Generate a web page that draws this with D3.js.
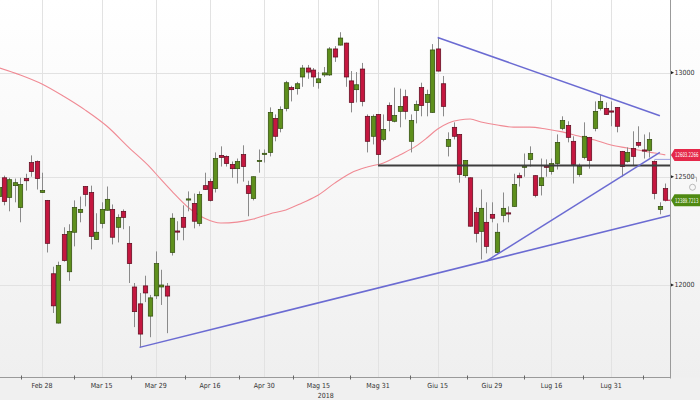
<!DOCTYPE html>
<html><head><meta charset="utf-8">
<script src="https://cdn.jsdelivr.net/npm/d3@7"></script>
<style>
body{margin:0;background:#f0f0f0;}
svg{display:block;}
text{font-family:"Liberation Sans Narrow","DejaVu Sans Condensed",sans-serif;}
</style>
</head><body>
<svg id="c" width="700" height="400"></svg>
<script>
// ---------- DATA ----------
const dates = [
"2018-02-16","2018-02-19","2018-02-20","2018-02-21","2018-02-22","2018-02-23","2018-02-26","2018-02-27","2018-02-28",
"2018-03-01","2018-03-02","2018-03-05","2018-03-06","2018-03-07","2018-03-08","2018-03-09","2018-03-12","2018-03-13","2018-03-14","2018-03-15","2018-03-16","2018-03-19","2018-03-20","2018-03-21","2018-03-22","2018-03-23","2018-03-26","2018-03-27","2018-03-28","2018-03-29",
"2018-04-03","2018-04-04","2018-04-05","2018-04-06","2018-04-09","2018-04-10","2018-04-11","2018-04-12","2018-04-13","2018-04-16","2018-04-17","2018-04-18","2018-04-19","2018-04-20","2018-04-23","2018-04-24","2018-04-25","2018-04-26","2018-04-27","2018-04-30",
"2018-05-02","2018-05-03","2018-05-04","2018-05-07","2018-05-08","2018-05-09","2018-05-10","2018-05-11","2018-05-14","2018-05-15","2018-05-16","2018-05-17","2018-05-18","2018-05-22","2018-05-23","2018-05-24","2018-05-25","2018-05-28","2018-05-29","2018-05-30","2018-05-31",
"2018-06-01","2018-06-04","2018-06-05","2018-06-06","2018-06-07","2018-06-08","2018-06-11","2018-06-12","2018-06-13","2018-06-14","2018-06-15","2018-06-18","2018-06-19","2018-06-20","2018-06-21","2018-06-22","2018-06-25","2018-06-26","2018-06-27","2018-06-28","2018-06-29",
"2018-07-02","2018-07-03","2018-07-04","2018-07-05","2018-07-06","2018-07-09","2018-07-10","2018-07-11","2018-07-12","2018-07-13","2018-07-16","2018-07-17","2018-07-18","2018-07-19","2018-07-20","2018-07-23","2018-07-24","2018-07-25","2018-07-26","2018-07-27","2018-07-30","2018-07-31",
"2018-08-01","2018-08-02","2018-08-03","2018-08-06","2018-08-07","2018-08-08","2018-08-09","2018-08-10","2018-08-13","2018-08-14"];

const open = [12407,12495,12403,12458,12356,12491,12567,12572,12426,
12389,12051,11829,12231,12060,12241,12333,12454,12426,12208,12282,12343,12347,12264,12338,12190,11991,11915,11996,11860,11951,
11991,11995,12148,12247,12310,12392,12375,12282,12458,12477,12444,12601,12596,12558,12538,12605,12458,12398,12574,12608,
12615,12778,12730,12826,12927,12922,12979,13023,13013,12951,12989,12989,13117,13136,13146,12960,12917,13018,12788,12692,12797,
12677,12840,12764,12812,12883,12668,12816,12927,12855,12807,13117,12946,12644,12735,12701,12505,12495,12333,12245,12287,12324,
12148,12319,12331,12361,12505,12546,12582,12505,12458,12550,12524,12562,12730,12744,12668,12510,12591,12687,12730,12826,12826,12814,
12831,12620,12572,12634,12663,12627,12625,12572,12347,12444];

const high = [12463,12505,12495,12491,12495,12514,12601,12577,12519,
12391,12083,12106,12264,12278,12389,12407,12456,12458,12329,12380,12454,12370,12324,12347,12269,12009,11964,12042,11955,12153,
12069,12009,12329,12292,12366,12431,12421,12431,12519,12491,12615,12644,12601,12572,12586,12649,12481,12501,12629,12629,
12831,12797,12836,12960,12936,12955,13038,13038,13023,13003,13028,13126,13131,13200,13148,13008,13003,13048,12797,12797,12799,
12797,12855,12927,12922,12917,12797,12864,12951,12917,13141,13176,12984,12711,12759,12703,12579,12497,12356,12440,12380,12380,
12282,12426,12361,12514,12519,12610,12644,12507,12586,12582,12586,12701,12788,12764,12692,12562,12759,12689,12860,12893,12855,12860,
12833,12622,12639,12716,12740,12701,12711,12577,12380,12468];

const low = [12394,12366,12338,12380,12287,12435,12500,12440,12424,
12148,11874,11827,12106,12019,12176,12287,12361,12162,12206,12259,12341,12185,12194,12255,12009,11811,11721,11923,11766,11937,
11910,11784,12134,12204,12204,12338,12259,12269,12438,12384,12426,12548,12548,12495,12468,12477,12315,12389,12519,12567,
12596,12668,12711,12812,12860,12893,12931,12970,12931,12922,12979,12984,13053,13134,12931,12807,12855,12836,12615,12653,12558,
12668,12716,12759,12735,12773,12615,12754,12788,12788,12805,13006,12788,12596,12677,12472,12495,12267,12194,12116,12144,12287,
12144,12287,12287,12359,12454,12500,12548,12403,12412,12500,12510,12534,12721,12663,12468,12500,12582,12538,12716,12816,12795,12740,
12711,12500,12567,12553,12639,12586,12591,12394,12324,12384];

const close = [12449,12384,12486,12472,12463,12481,12524,12491,12435,
12190,11906,12088,12111,12245,12356,12347,12417,12222,12241,12347,12394,12218,12310,12310,12097,11880,11780,11964,11942,12097,
12000,11950,12306,12243,12264,12396,12292,12417,12440,12389,12586,12591,12562,12538,12572,12548,12421,12500,12577,12611,
12807,12692,12821,12951,12917,12946,13023,13003,12979,12970,12999,13117,13077,13171,12979,12855,12941,12860,12668,12788,12605,
12725,12768,12792,12836,12812,12768,12845,12840,12893,13112,13008,12836,12677,12692,12510,12577,12269,12236,12352,12176,12306,
12241,12352,12327,12463,12495,12550,12610,12412,12495,12546,12562,12663,12768,12687,12558,12548,12692,12577,12812,12860,12797,12810,
12740,12548,12615,12596,12649,12622,12677,12421,12361,12389.7213];

// moving average at sample dates
const maDates = ["2018-02-16","2018-02-22","2018-02-28","2018-03-06","2018-03-12","2018-03-16","2018-03-22","2018-03-28","2018-04-03","2018-04-05","2018-04-10","2018-04-13","2018-04-18","2018-04-23","2018-04-26","2018-05-02","2018-05-07","2018-05-10","2018-05-15","2018-05-18","2018-05-24","2018-05-29","2018-06-01","2018-06-06","2018-06-11","2018-06-13","2018-06-15","2018-06-19","2018-06-21","2018-06-25","2018-06-27","2018-07-02","2018-07-05","2018-07-10","2018-07-13","2018-07-18","2018-07-23","2018-07-26","2018-07-31","2018-08-03","2018-08-08","2018-08-10","2018-08-14"];
const maValues = [13025,12989,12945,12885,12818,12740,12639,12543,12486,12431,12356,12306,12284,12288,12302,12326,12344,12377,12414,12470,12518,12546,12565,12603,12645,12684,12727,12756,12770,12775,12761,12746,12736,12736,12727,12713,12693,12674,12650,12636,12622,12612,12603.2266];

const xTickDates  = ["2018-02-28","2018-03-15","2018-03-29","2018-04-16","2018-04-30","2018-05-15","2018-05-31","2018-06-15","2018-06-29","2018-07-16","2018-07-31"];
const xTickLabels = ["Feb 28","Mar 15","Mar 29","Apr 16","Apr 30","Mag 15","Mag 31","Giu 15","Giu 29","Lug 16","Lug 31"];
const yearLabel = "2018";
const yTicks = [12000, 12500, 13000];

// analyst drawings
const supportStart = "2018-05-31", supportValue = 12553;
const trendFrom  = ["2018-06-15","2018-03-26","2018-06-28"];
const trendFromV = [13174, 11721, 12109];
const trendTo    = ["2018-08-13","2018-06-28","2018-08-13"];
const trendToV   = [12791, 12109, 12615];
const trendExtend = [false, true, false];
const faintStart = "2018-08-10", faintValue = 12582;

const maLabel = "12603.2266", lastLabel = "12389.7213";

// ---------- CHART ----------
const svg = d3.select("#c");
const PR = 670.5, PB = 377.5;

const x = d3.scalePoint().domain(dates).range([-1.4, 665.3]);
const y = d3.scaleLog().domain([12000, 13000]).range([285, 72.7]);

const defs = svg.append("defs");
const g1 = defs.append("linearGradient").attr("id","bg").attr("x1",0).attr("y1",0).attr("x2",0).attr("y2",1);
g1.append("stop").attr("offset","0%").attr("stop-color","#ffffff");
g1.append("stop").attr("offset","100%").attr("stop-color","#efefef");
defs.append("clipPath").attr("id","clip").append("rect").attr("x",0).attr("y",0).attr("width",PR).attr("height",PB);

svg.append("rect").attr("width",700).attr("height",400).attr("fill","#f0f0f0");
svg.append("rect").attr("x",0).attr("y",0).attr("width",700).attr("height",PB).attr("fill","url(#bg)");

const plot = svg.append("g").attr("clip-path","url(#clip)");

// grid
plot.selectAll("line.vg").data(xTickDates).join("line")
  .attr("x1",d=>Math.round(x(d))+0.5).attr("x2",d=>Math.round(x(d))+0.5)
  .attr("y1",0).attr("y2",PB).attr("stroke","#e2e2e2").attr("stroke-width",1);
plot.selectAll("line.hg").data(yTicks).join("line")
  .attr("x1",0).attr("x2",PR).attr("y1",d=>Math.round(y(d))+0.5).attr("y2",d=>Math.round(y(d))+0.5)
  .attr("stroke","#e2e2e2").attr("stroke-width",1);

// moving average
const ma = maDates.map((d,i)=>[d,maValues[i]]);
plot.append("path").datum(ma)
  .attr("d", d3.line().x(d=>x(d[0])).y(d=>y(d[1])).curve(d3.curveMonotoneX))
  .attr("fill","none").attr("stroke","#f08a94").attr("stroke-width",1.1);

// candles
const bw = 4.4;
const idx = d3.range(dates.length);
const cg = plot.append("g");
cg.selectAll("line.w").data(idx).join("line")
  .attr("x1",i=>Math.round(x(dates[i]))+0.5).attr("x2",i=>Math.round(x(dates[i]))+0.5)
  .attr("y1",i=>y(high[i])).attr("y2",i=>y(low[i]))
  .attr("stroke","#8a8a8a").attr("stroke-width",1);
cg.selectAll("rect.b").data(idx).join("rect")
  .attr("x",i=>Math.round(x(dates[i]))+0.5-bw/2)
  .attr("y",i=>y(Math.max(open[i],close[i])))
  .attr("width",bw)
  .attr("height",i=>Math.max(1.2, y(Math.min(open[i],close[i]))-y(Math.max(open[i],close[i]))))
  .attr("fill",i=>close[i]>=open[i]?"#5e8f1c":"#c4173f")
  .attr("stroke",i=>close[i]>=open[i]?"#2f4a0c":"#5a0a1c")
  .attr("stroke-width",0.7);

// support line
plot.append("line").attr("x1",x(supportStart)).attr("x2",PR)
  .attr("y1",y(supportValue)).attr("y2",y(supportValue))
  .attr("stroke","#3d3d3d").attr("stroke-width",2);

// trend lines
trendFrom.forEach((d,i)=>{
  const x1=x(d), y1=y(trendFromV[i]), x2=x(trendTo[i]), y2=y(trendToV[i]);
  let ex=x2, ey=y2;
  if (trendExtend[i]) { ex = PR; ey = y1 + (y2-y1)*(PR-x1)/(x2-x1); }
  plot.append("line").attr("x1",x1).attr("y1",y1).attr("x2",ex).attr("y2",ey)
    .attr("stroke","#6b6bd2").attr("stroke-width",1.5);
});
plot.append("line").attr("x1",x(faintStart)).attr("x2",PR)
  .attr("y1",y(faintValue)).attr("y2",y(faintValue))
  .attr("stroke","#9aa0e0").attr("stroke-width",1);
plot.append("line").attr("x1",x(dates[dates.length-1])).attr("x2",PR)
  .attr("y1",y(close[close.length-1])).attr("y2",y(close[close.length-1]))
  .attr("stroke","#c4173f").attr("stroke-width",1);

// axes
svg.append("line").attr("x1",PR).attr("x2",PR).attr("y1",0).attr("y2",PB+1).attr("stroke","#9a9a9a");
svg.append("line").attr("x1",0).attr("x2",PR).attr("y1",PB).attr("y2",PB).attr("stroke","#9a9a9a");

// right axis ticks & labels
yTicks.forEach(v=>{
  const yy = y(v);
  svg.append("path").attr("d",`M${PR+0.5},${yy-1.6}L${PR+3.5},${yy}L${PR+0.5},${yy+1.6}Z`).attr("fill","#222");
  svg.append("text").attr("x",PR+4).attr("y",yy).attr("dy","0.35em")
    .attr("font-size",7).attr("fill","#333").text(d3.format("d")(v));
});

// value labels (text squeezed horizontally to fit the 25px box)
function valueLabel(v, txt, col){
  const yy = y(v);
  svg.append("path").attr("d",`M${PR+0.5},${yy}L${PR+4},${yy-6}L700,${yy-6}L700,${yy+6}L${PR+4},${yy+6}Z`)
    .attr("fill",col);
  const g = svg.append("g");
  const t = g.append("text").attr("x",0).attr("y",0).attr("dy","0.35em")
    .attr("font-size",6.5).attr("fill","#fff").text(txt);
  const len = t.node().getComputedTextLength();
  const sx = Math.min(1, 23.5/len);
  g.attr("transform",`translate(${PR+4.5},${yy}) scale(${sx},1)`);
}
valueLabel(maValues[maValues.length-1], maLabel, "#e5284a");
valueLabel(close[close.length-1], lastLabel, "#4f8a12");

// small gray icon near 12500
svg.append("path").attr("d",`M690,${y(12500)+0.5}H696.5V${y(12500)+5}`).attr("fill","none").attr("stroke","#aaa").attr("stroke-width",0.8);
svg.append("circle").attr("cx",692.5).attr("cy",y(12500)+10.5).attr("r",3).attr("fill","none").attr("stroke","#aaa").attr("stroke-width",0.8);

// bottom ticks (minor, between labels)
const tx = xTickDates.map(d=>x(d));
const minor = [tx[0]-21];
for (let i=0;i<tx.length-1;i++) minor.push((tx[i]+tx[i+1])/2+2);
minor.push(tx[tx.length-1]+32);
svg.selectAll("line.mt").data(minor).join("line")
  .attr("x1",d=>Math.round(d)+0.5).attr("x2",d=>Math.round(d)+0.5).attr("y1",PB-2).attr("y2",PB+2)
  .attr("stroke","#666");

svg.selectAll("text.xl").data(xTickDates).join("text")
  .attr("x",d=>x(d)).attr("y",385.5).attr("dy","0.35em").attr("text-anchor","middle")
  .attr("font-size",7).attr("fill","#333").text((d,i)=>xTickLabels[i]);
svg.append("text").attr("x",x("2018-05-16")+2).attr("y",395.5).attr("dy","0.35em").attr("text-anchor","middle")
  .attr("font-size",7).attr("fill","#333").text(yearLabel);
</script>
</body></html>
